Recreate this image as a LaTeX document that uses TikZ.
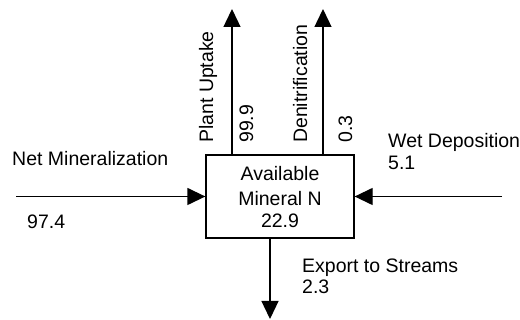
\documentclass[tikz,border=0pt]{standalone}
\usepackage{fontspec}
\setmainfont{Liberation Sans}
\usetikzlibrary{arrows.meta}
\tikzset{
  flow/.style={line width=1.3pt,-{Triangle[width=17pt,length=18pt]}},
  lbl/.style={inner sep=0pt,anchor=base west,font=\fontsize{19.5}{23}\selectfont},
  vlbl/.style={lbl,rotate=90},
  ctr/.style={inner sep=0pt,anchor=base,font=\fontsize{19.5}{23}\selectfont},
  pool/.style={draw,line width=1.3pt,minimum width=148pt,minimum height=83pt,inner sep=0pt}
}
\begin{document}
\begin{tikzpicture}[x=1pt,y=1pt]
\useasboundingbox (0,0) rectangle (520,320);
\node[pool] (box) at (280,123.5) {};
\node[ctr] (t1) at (280,139) {Available};
\node[ctr] (t2) at (280,114.5) {Mineral N};
\node[ctr] (t3) at (280,92) {22.9};
% inputs
\coordinate (nmS) at (16,123.5);
\coordinate (wdS) at (502,123.5);
\draw[flow] (nmS) -- (box.west);
\draw[flow] (wdS) -- (box.east);
% outputs
\coordinate (puE) at (232,311);
\coordinate (dnE) at (323,311);
\coordinate (exE) at (270,1);
\draw[flow] (box.north -| puE) -- (puE);
\draw[flow] (box.north -| dnE) -- (dnE);
\draw[flow] (box.south -| exE) -- (exE);
% labels
\node[lbl] (nm) at (12,154) {Net Mineralization};
\node[lbl] (nmv) at (27,91) {97.4};
\node[lbl] (wd) at (388,172) {Wet Deposition};
\node[lbl] (wdv) at (388,150) {5.1};
\node[lbl] (ex) at (302,47) {Export to Streams};
\node[lbl] (exv) at (302,26) {2.3};
\node[vlbl] (pu) at (213,177) {Plant Uptake};
\node[vlbl] (puv) at (253,177) {99.9};
\node[vlbl] (dn) at (307,177) {Denitrification};
\node[vlbl] (dnv) at (352,177) {0.3};
\end{tikzpicture}
\end{document}
